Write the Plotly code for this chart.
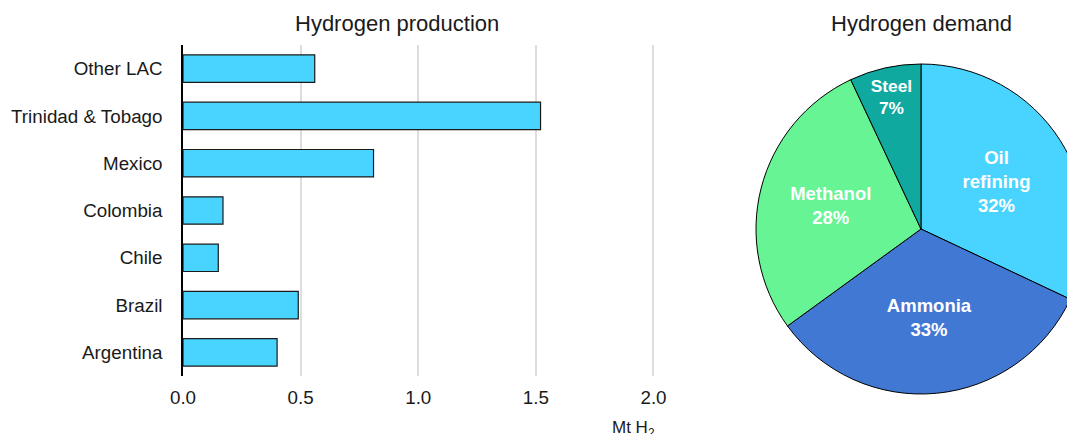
import plotly.graph_objects as go

# production by country, Mt H2 (bottom to top as drawn)
countries = ['Argentina', 'Brazil', 'Chile', 'Colombia', 'Mexico', 'Trinidad & Tobago', 'Other LAC']
production = [0.40, 0.49, 0.15, 0.17, 0.81, 1.52, 0.56]
x_ticks = [0, 0.5, 1.0, 1.5, 2.0]
x_tick_labels = ['0.0', '0.5', '1.0', '1.5', '2.0']

# demand split, %
sectors = ['Oil<br>refining', 'Ammonia', 'Methanol', 'Steel']
demand_share = [32, 33, 28, 7]
sector_colors = ['#48D4FF', '#4178D3', '#66F494', '#10A99F']

# the page body adds an 8px margin, positions below are given in screen pixels
W, H = 1080, 434
OFF = 8
FONT = 'Arial, Liberation Sans, sans-serif'


def px_x(p):
    # screen pixel -> paper fraction
    return (p - OFF) / W


def px_y(p):
    return (H - (p - OFF)) / H


fig = go.Figure()

fig.add_trace(go.Bar(
    x=production,
    y=countries,
    orientation='h',
    width=0.58,
    marker=dict(color='#48D4FF', line=dict(color='#1a1a1a', width=1.2)),
    hovertemplate='%{y}: %{x:.2f} Mt H2<extra></extra>',
    showlegend=False,
))

fig.add_trace(go.Pie(
    labels=sectors,
    values=demand_share,
    sort=False,
    direction='clockwise',
    rotation=0,
    marker=dict(colors=sector_colors, line=dict(color='#000000', width=1)),
    texttemplate='<b>%{label}<br>%{value}%</b>',
    textposition='inside',
    insidetextorientation='horizontal',
    textfont=dict(color='white', size=18.5, family=FONT),
    domain=dict(x=[px_x(756), px_x(1086)], y=[px_y(394), px_y(64)]),
    showlegend=False,
))

fig.update_layout(
    width=W,
    height=H,
    margin=dict(l=0, r=0, t=0, b=0, autoexpand=False),
    paper_bgcolor='white',
    plot_bgcolor='white',
    font=dict(family=FONT, size=18.8, color='#1a1a1a'),
    xaxis=dict(
        domain=[px_x(183), px_x(677)],
        range=[0, 2.1],
        tickvals=x_ticks,
        ticktext=x_tick_labels,
        showgrid=True,
        gridcolor='#DDDDDD',
        gridwidth=1.5,
        zeroline=False,
        showline=False,
        ticks='',
        ticklabelstandoff=8,
        automargin=False,
    ),
    yaxis=dict(
        domain=[px_y(376), px_y(45)],
        range=[-0.5, 6.5],
        showgrid=False,
        zeroline=False,
        showline=True,
        linecolor='#000000',
        linewidth=1.5,
        ticks='',
        ticklabelstandoff=15,
        automargin=False,
    ),
    annotations=[
        dict(text='Hydrogen production', x=px_x(397), y=px_y(24), xref='paper', yref='paper',
             showarrow=False, font=dict(size=22), xanchor='center', yanchor='middle'),
        dict(text='Hydrogen demand', x=px_x(921), y=px_y(24), xref='paper', yref='paper',
             showarrow=False, font=dict(size=22), xanchor='center', yanchor='middle'),
        dict(text='Mt H<sub>2</sub>', x=px_x(633), y=px_y(416), xref='paper', yref='paper',
             showarrow=False, font=dict(size=17), xanchor='center', yanchor='top'),
    ],
)

fig.write_html('out.html')
